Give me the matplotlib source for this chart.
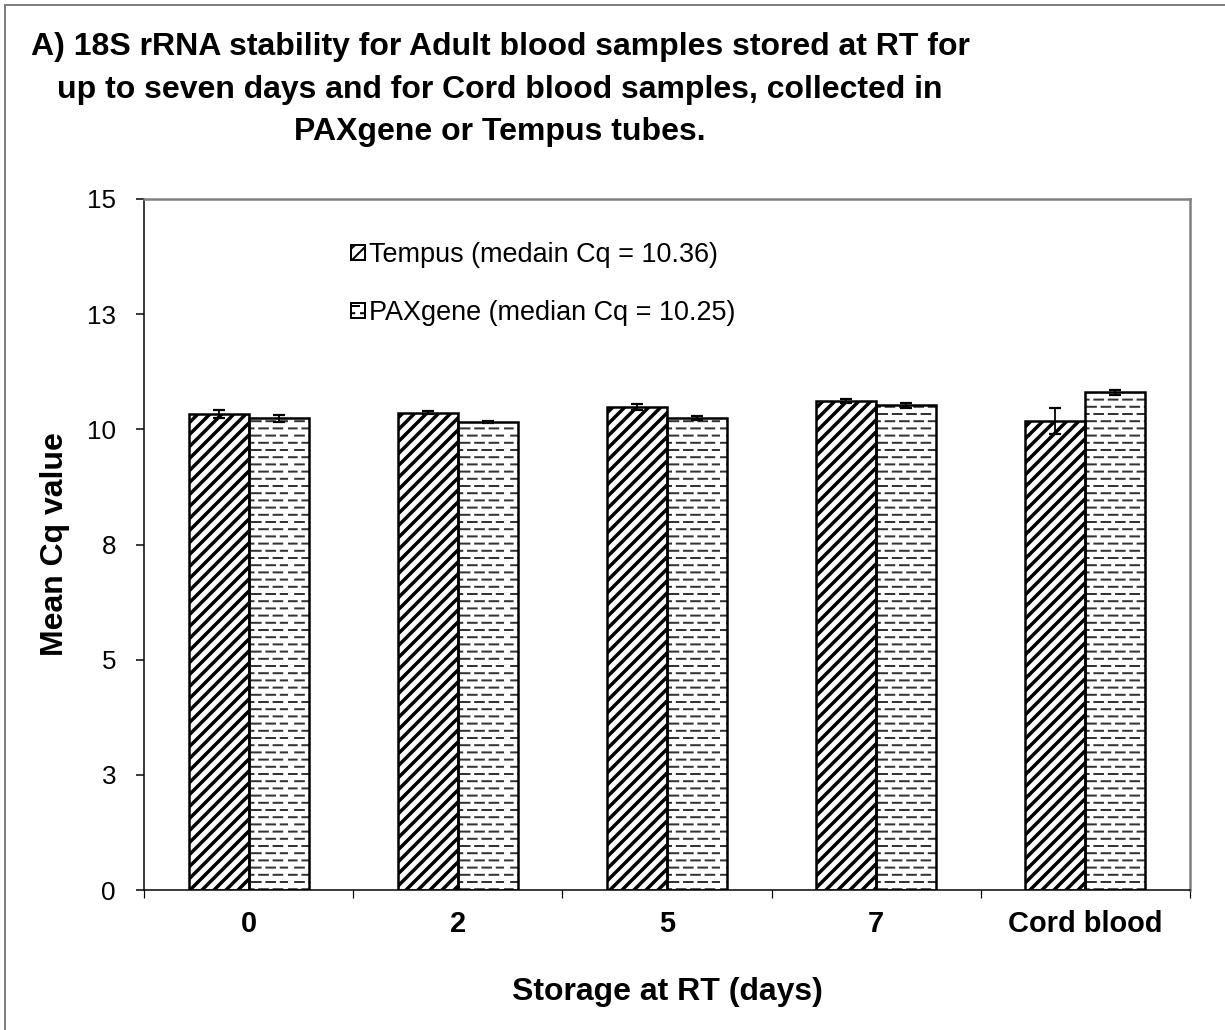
import numpy as np
import matplotlib
matplotlib.use("Agg")
import matplotlib.pyplot as plt
import matplotlib.hatch as mhatch
from matplotlib.path import Path
from matplotlib.patches import Patch, Rectangle

days = ['0', '2', '5', '7', 'Cord blood']
tempus = [10.33, 10.36, 10.48, 10.62, 10.18]
tempus_err = [0.08, 0.03, 0.07, 0.04, 0.29]
paxgene = [10.24, 10.16, 10.25, 10.52, 10.80]
paxgene_err = [0.07, 0.02, 0.04, 0.06, 0.06]
y_ticks = [0, 2.5, 5, 7.5, 10, 12.5, 15]
y_tick_labels = ['0', '3', '5', '8', '10', '13', '15']
legend_labels = ['Tempus (medain Cq = 10.36)', 'PAXgene (median Cq = 10.25)']


class DashedRows(mhatch.HatchPatternBase):
    # '-' drawn as staggered dashes, like the old Excel pattern fill
    rows_per_unit = 10
    dashes_per_row = 5

    def __init__(self, hatch, density):
        self.num_rows = self.rows_per_unit if hatch.count('-') else 0
        self.num_vertices = self.num_rows * self.dashes_per_row * 2

    def set_vertices_and_codes(self, vertices, codes):
        step = 1.0 / self.dashes_per_row
        k = 0
        for r in range(self.num_rows):
            y = (r + 0.5) / self.num_rows
            off = 0.0 if r % 2 == 0 else step / 2
            for d in range(self.dashes_per_row):
                x0 = (off + d * step) % 1.0
                x1 = min(x0 + step * 0.6, 1.0)
                vertices[k] = (x0, y)
                vertices[k + 1] = (x1, y)
                codes[k] = Path.MOVETO
                codes[k + 1] = Path.LINETO
                k += 2


mhatch._hatch_types = [DashedRows if h is mhatch.HorizontalHatch else h
                       for h in mhatch._hatch_types]


def set_hatch_lw(patches, lw):
    for p in patches:
        if hasattr(p, 'set_hatch_linewidth'):
            p.set_hatch_linewidth(lw)


plt.rcParams['font.family'] = ['Liberation Sans', 'DejaVu Sans']

fig = plt.figure(figsize=(1225 / 72, 1030 / 72), dpi=72)
ax = fig.add_axes([144 / 1225, 1 - 890 / 1030, 1046 / 1225, 691 / 1030])

x = np.arange(len(days))
w = 0.287

plt.rcParams['hatch.linewidth'] = 3.5
b1 = ax.bar(x - w / 2, tempus, w, color='white', edgecolor='black', hatch='//',
            linewidth=0, zorder=2)
set_hatch_lw(b1, 3.5)
plt.rcParams['hatch.linewidth'] = 2.0
b2 = ax.bar(x + w / 2, paxgene, w, color='white', edgecolor='#333333', hatch='-',
            linewidth=0, zorder=2)
set_hatch_lw(b2, 2.0)
# outlines on top
ax.bar(x - w / 2, tempus, w, fill=False, edgecolor='black', linewidth=2.5, zorder=3)
ax.bar(x + w / 2, paxgene, w, fill=False, edgecolor='black', linewidth=2.5, zorder=3)

ax.errorbar(x - w / 2, tempus, yerr=tempus_err, fmt='none', ecolor='black',
            elinewidth=1.8, capsize=6, capthick=2.2, zorder=4)
ax.errorbar(x + w / 2, paxgene, yerr=paxgene_err, fmt='none', ecolor='black',
            elinewidth=1.8, capsize=6, capthick=2.2, zorder=4)

ax.set_xlim(-0.5, len(days) - 0.5)
ax.set_ylim(0, 15)
ax.set_yticks(y_ticks)
ax.set_yticklabels(y_tick_labels, fontsize=26)
ax.tick_params(axis='y', direction='out', length=8, width=1.5, pad=20)

ax.set_xticks(np.arange(len(days) + 1) - 0.5)
ax.set_xticklabels([])
ax.tick_params(axis='x', which='major', direction='out', length=8, width=1.2)
ax.set_xticks(x, minor=True)
ax.set_xticklabels(days, minor=True, fontsize=29, fontweight='bold')
ax.tick_params(axis='x', which='minor', length=0, pad=20)

for s in ['left', 'bottom']:
    ax.spines[s].set_linewidth(1.5)
for s in ['top', 'right']:
    ax.spines[s].set_color('#808080')
    ax.spines[s].set_linewidth(2.5)

ax.set_ylabel('Mean Cq value', fontsize=32, fontweight='bold', labelpad=17)
ax.set_xlabel('Storage at RT (days)', fontsize=32, fontweight='bold', labelpad=39)

handles = [Patch(facecolor='white', edgecolor='black', hatch='//', linewidth=2),
           Patch(facecolor='white', edgecolor='black', hatch='-', linewidth=2)]
ax.legend(handles, legend_labels, loc='upper left', bbox_to_anchor=(0.198, 0.938),
          frameon=False, fontsize=27, handlelength=0.5, handleheight=0.5,
          handletextpad=0.15, labelspacing=1.19, borderpad=0, borderaxespad=0)

fig.text(500 / 1225, 1 - 32 / 1030,
         'A) 18S rRNA stability for Adult blood samples stored at RT for\n'
         'up to seven days and for Cord blood samples, collected in\n'
         'PAXgene or Tempus tubes.',
         ha='center', va='top', multialignment='center', fontsize=32,
         fontweight='bold', linespacing=1.55)

fig.patches.append(Rectangle((5 / 1225, -0.1), 1.2, 1.1 - 5 / 1030,
                             transform=fig.transFigure, fill=False,
                             edgecolor='#808080', linewidth=2, zorder=0))

fig.savefig('out.png', dpi=72)
